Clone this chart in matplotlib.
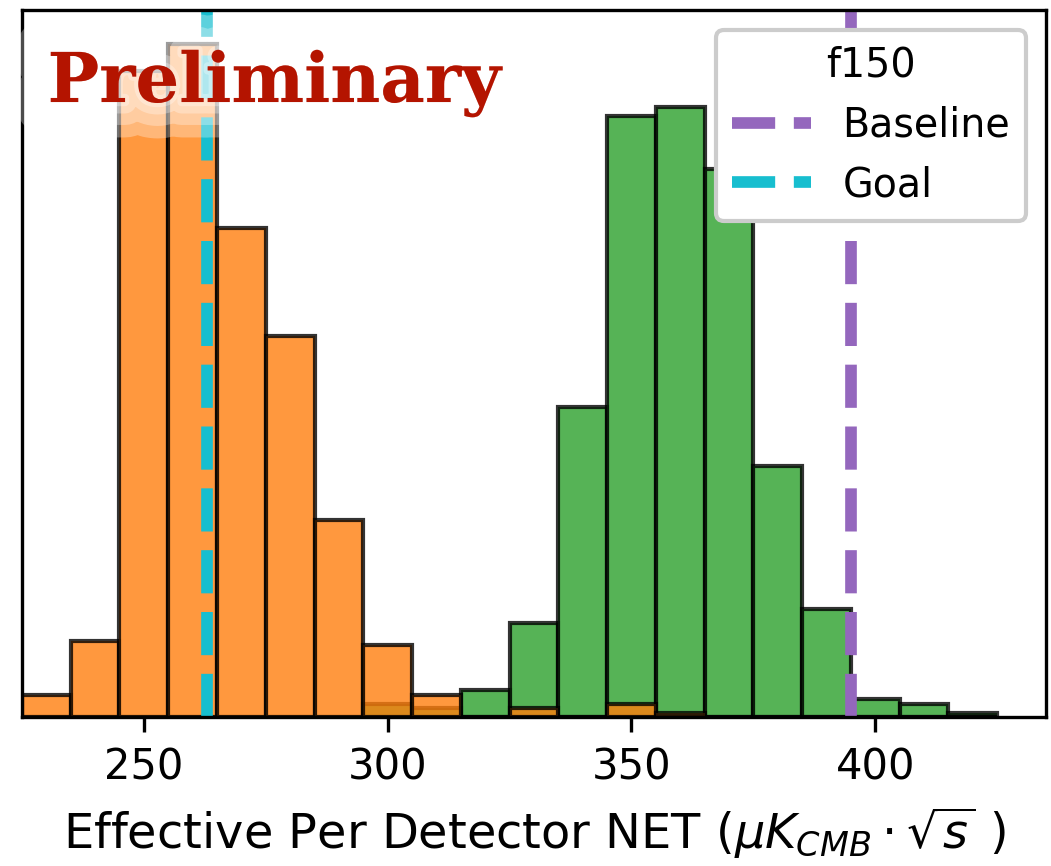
import matplotlib
matplotlib.use("Agg")
import matplotlib.pyplot as plt
import matplotlib.patheffects as pe
import numpy as np

# histogram bins (NET, uK_CMB * sqrt(s)), 10-wide
bin_left = np.arange(225, 425, 10)
counts_a = [5, 17, 144, 150, 109, 85, 44, 16, 5, 0, 2, 0, 3, 1, 0, 0, 0, 0, 0, 0]
counts_b = [0, 0, 0, 0, 0, 0, 0, 3, 2, 6, 21, 69, 134, 136, 122, 56, 24, 4, 3, 1]

baseline_net = 395
goal_net = 263
band = "f150"
xticks = [250, 300, 350, 400]

fig = plt.figure(figsize=(1051 / 300, 866 / 300), dpi=300)
ax = fig.add_axes([0.0209, 0.172, 0.9743, 0.8163])

ax.bar(bin_left, counts_b, width=10, align="edge", color="tab:green",
       edgecolor="black", linewidth=1.0, alpha=0.8)
ax.bar(bin_left, counts_a, width=10, align="edge", color="tab:orange",
       edgecolor="black", linewidth=1.0, alpha=0.8)

ax.axvline(baseline_net, color="tab:purple", ls="--", lw=2.8, label="Baseline")
ax.axvline(goal_net, color="tab:cyan", ls="--", lw=2.8, label="Goal")

ax.set_xlim(225, 435)
ax.set_xticks(xticks)
ax.set_yticks([])
ax.tick_params(axis="x", labelsize=10)
ax.set_xlabel(r"Effective Per Detector NET ($\mu K_{CMB} \cdot \sqrt{s}$ )",
              fontsize=11.5)

ax.legend(title=band, fontsize=9.5, title_fontsize=9.5, loc="upper right",
          framealpha=1)

# watermark with a soft white glow
glow = [pe.Stroke(linewidth=17, foreground="white", alpha=0.3),
        pe.Stroke(linewidth=11, foreground="white", alpha=0.3),
        pe.Stroke(linewidth=5.5, foreground="white", alpha=0.3),
        pe.Stroke(linewidth=2, foreground="white", alpha=0.3),
        pe.Normal()]
ax.text(0.025, 0.870, "Preliminary", transform=ax.transAxes,
        ha="left", va="baseline", fontsize=16.5, fontweight="bold",
        family="DejaVu Serif", color="#b41400", path_effects=glow, zorder=4)

fig.savefig("out.png", dpi=300)
